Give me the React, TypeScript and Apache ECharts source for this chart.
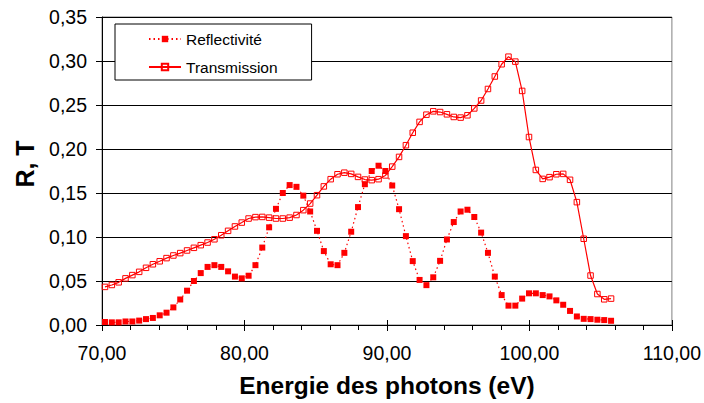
import React, { useEffect, useRef } from 'react';
import * as echarts from 'echarts';

const energies = [
  70.21, 70.69, 71.17, 71.65, 72.13, 72.61, 73.09, 73.57, 74.05, 74.53,
  75.01, 75.49, 75.97, 76.45, 76.93, 77.41, 77.89, 78.37, 78.85, 79.33,
  79.81, 80.29, 80.77, 81.25, 81.73, 82.21, 82.69, 83.17, 83.65, 84.13,
  84.61, 85.09, 85.57, 86.05, 86.53, 87.01, 87.49, 87.97, 88.45, 88.93,
  89.41, 89.89, 90.37, 90.85, 91.33, 91.81, 92.29, 92.77, 93.25, 93.73,
  94.21, 94.69, 95.17, 95.65, 96.13, 96.61, 97.09, 97.57, 98.05, 98.53,
  99.01, 99.49, 99.97, 100.45, 100.93, 101.41, 101.89, 102.37, 102.85, 103.33,
  103.81, 104.29, 104.77, 105.25, 105.73,
];

const reflectivite = [
  0.0034, 0.003, 0.003, 0.004, 0.004, 0.005, 0.0067, 0.008, 0.011, 0.014,
  0.02, 0.029, 0.039, 0.05, 0.059, 0.066, 0.068, 0.066, 0.061, 0.055,
  0.053, 0.056, 0.068, 0.088, 0.111, 0.132, 0.15, 0.159, 0.157, 0.147,
  0.129, 0.107, 0.084, 0.069, 0.068, 0.082, 0.106, 0.134, 0.16, 0.175,
  0.181, 0.175, 0.1585, 0.1316, 0.101, 0.0726, 0.0512, 0.0453, 0.0542, 0.0729,
  0.0972, 0.117, 0.129, 0.131, 0.1227, 0.105, 0.082, 0.055, 0.034, 0.022,
  0.022, 0.03, 0.036, 0.036, 0.034, 0.0325, 0.028, 0.023, 0.016, 0.0097,
  0.007, 0.0067, 0.006, 0.0056, 0.0048,
];

const transmission = [
  0.0433, 0.0455, 0.0485, 0.053, 0.0567, 0.0604, 0.065, 0.069, 0.0724, 0.076,
  0.079, 0.0817, 0.0847, 0.0877, 0.0907, 0.0937, 0.0974, 0.102, 0.107, 0.112,
  0.1164, 0.121, 0.1226, 0.1228, 0.122, 0.121, 0.121, 0.122, 0.125, 0.1305,
  0.138, 0.1475, 0.1575, 0.1657, 0.1713, 0.1731, 0.1717, 0.1683, 0.1653, 0.1646,
  0.1657, 0.17, 0.18, 0.191, 0.2043, 0.2185, 0.2308, 0.239, 0.2428, 0.242,
  0.2394, 0.2364, 0.2357, 0.2383, 0.2461, 0.2551, 0.2682, 0.2824, 0.2963, 0.3049,
  0.2993, 0.266, 0.2136, 0.1762, 0.166, 0.168, 0.1713, 0.1717, 0.165, 0.1396,
  0.098, 0.0562, 0.0352, 0.0292, 0.03,
];

const seriesNames = ['Reflectivité', 'Transmission'];
const xTitle = 'Energie des photons (eV)';
const yTitle = 'R, T';

export default function App() {
  const ref = useRef<HTMLDivElement>(null);
  useEffect(() => {
    document.body.style.margin = '0';
    document.documentElement.style.overflow = 'hidden';
    const chart = echarts.init(ref.current as HTMLDivElement, null, {
      renderer: 'svg',
      width: 704,
      height: 403,
    });
    const font = "'Liberation Sans', Arial, sans-serif";
    const fmt = (v: number) => v.toFixed(2).replace('.', ',');
    const red = '#ff0000';
    chart.setOption({
      animation: false,
      backgroundColor: '#fff',
      grid: {
        left: 102,
        right: 31,
        top: 17,
        bottom: 74,
        show: true,
        borderColor: '#808080',
        borderWidth: 1,
        backgroundColor: 'transparent',
      },
      legend: {
        orient: 'vertical',
        left: 115,
        top: 24,
        padding: [7, 34, 5, 33],
        itemGap: 12,
        itemWidth: 32,
        itemHeight: 8,
        backgroundColor: '#fff',
        borderColor: '#000',
        borderWidth: 1,
        textStyle: { fontFamily: font, fontSize: 15.5, color: '#000' },
        data: seriesNames,
      },
      xAxis: [
        {
          type: 'value',
          min: 70,
          max: 110,
          interval: 10,
          position: 'bottom',
          axisLine: { show: true, lineStyle: { color: '#000', width: 1 } },
          axisTick: { show: true, length: 6, lineStyle: { color: '#000' } },
          minorTick: { show: true, splitNumber: 5, length: 5, lineStyle: { color: '#000' } },
          splitLine: { show: false },
          axisLabel: {
            formatter: fmt,
            margin: 18,
            fontFamily: font,
            fontSize: 19.5,
            color: '#000',
          },
          name: xTitle,
          nameLocation: 'middle',
          nameGap: 48,
          nameTextStyle: { fontFamily: font, fontSize: 24.5, fontWeight: 'bold', color: '#000' },
        },
        {
          type: 'value',
          min: 70,
          max: 110,
          interval: 10,
          position: 'bottom',
          offset: 0,
          axisLine: { show: false },
          axisTick: { show: true, inside: true, length: 5, lineStyle: { color: '#000' } },
          axisLabel: { show: false },
          splitLine: { show: false },
        },
      ],
      yAxis: {
        type: 'value',
        min: 0,
        max: 0.35,
        interval: 0.05,
        axisLine: { show: true, lineStyle: { color: '#000', width: 1 } },
        axisTick: { show: true, length: 6, lineStyle: { color: '#000' } },
        splitLine: { show: true, lineStyle: { color: '#000', width: 1 } },
        axisLabel: {
          formatter: fmt,
          margin: 15,
          fontFamily: font,
          fontSize: 19.5,
          color: '#000',
        },
      },
      graphic: [
        {
          type: 'text',
          x: 25,
          y: 164,
          rotation: Math.PI / 2,
          style: {
            text: yTitle,
            fontFamily: font,
            fontSize: 25,
            fontWeight: 'bold',
            fill: '#000',
            align: 'center',
            verticalAlign: 'middle',
            textAlign: 'center',
            textVerticalAlign: 'middle',
          },
        },
      ],
      series: [
        {
          name: seriesNames[0],
          type: 'line',
          xAxisIndex: 0,
          data: energies.map((e, i) => [e, reflectivite[i]]),
          symbol: 'rect',
          symbolSize: 6,
          showSymbol: true,
          color: red,
          itemStyle: { color: red },
          lineStyle: { color: red, width: 1.2, type: [1.5, 3] },
        },
        {
          name: seriesNames[1],
          type: 'line',
          xAxisIndex: 0,
          data: energies.map((e, i) => [e, transmission[i]]),
          symbol: 'rect',
          symbolSize: 5.5,
          showSymbol: true,
          color: red,
          itemStyle: { color: 'rgba(255,255,255,0)', borderColor: red, borderWidth: 1 },
          lineStyle: { color: red, width: 1.2 },
        },
      ],
    });
    return () => chart.dispose();
  }, []);
  return (
    <div
      ref={ref}
      style={{ position: 'fixed', left: 0, top: 0, width: 704, height: 403, background: '#fff' }}
    />
  );
}
